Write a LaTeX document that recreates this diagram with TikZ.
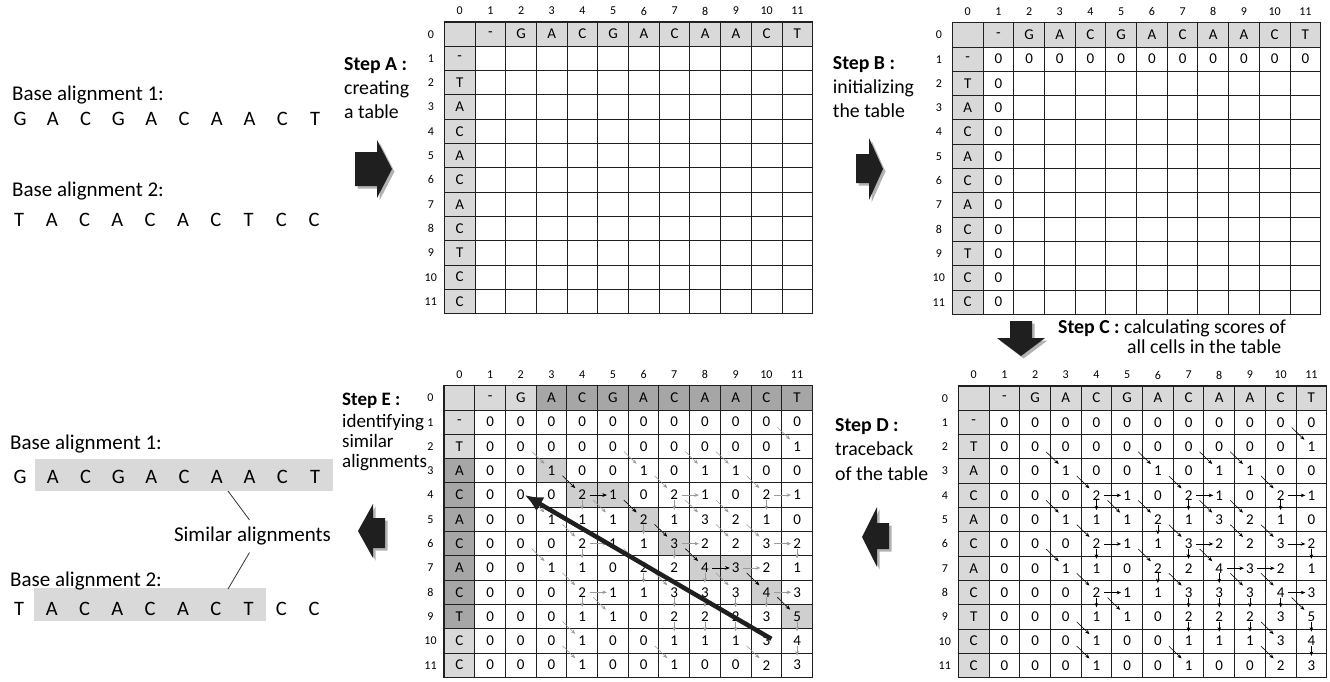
\documentclass[tikz,border=0pt]{standalone}
\usepackage{fontspec}
\setmainfont{Carlito}
\usetikzlibrary{positioning,arrows.meta,shadows}

\definecolor{hdrlight}{HTML}{D9D9D9}
\definecolor{hdrdark}{HTML}{A6A6A6}
\definecolor{pathcell}{HTML}{CFCFCF}
\definecolor{gridcol}{HTML}{202020}
\definecolor{fadearr}{HTML}{9A9A9A}

\newcommand{\cellw}{30.7}
\newcommand{\cellh}{24.3}
% scores, rows 1..11, columns 1..11
\newcommand{\scorerows}{%
  {0,0,0,0,0,0,0,0,0,0,0},%
  {0,0,0,0,0,0,0,0,0,0,1},%
  {0,0,1,0,0,1,0,1,1,0,0},%
  {0,0,0,2,1,0,2,1,0,2,1},%
  {0,0,1,1,1,2,1,3,2,1,0},%
  {0,0,0,2,1,1,3,2,2,3,2},%
  {0,0,1,1,0,2,2,4,3,2,1},%
  {0,0,0,2,1,1,3,3,3,4,3},%
  {0,0,0,1,1,0,2,2,2,3,5},%
  {0,0,0,1,0,0,1,1,1,3,4},%
  {0,0,0,1,0,0,1,0,0,2,3}}
% traceback arrows, given by their target cell
\newcommand{\diaglist}{2/11,3/3,3/6,3/8,3/9,4/4,4/7,4/10,5/3,5/5,5/6,5/8,5/9,6/4,6/7,6/9,6/10,7/3,7/6,7/8,8/4,8/7,8/9,8/10,9/5,9/11,10/4,10/10,11/4,11/7,11/10}
\newcommand{\horlist}{4/5,4/8,4/11,6/5,6/8,6/11,7/9,7/10,8/5,8/11}
\newcommand{\verlist}{5/4,5/7,5/10,6/6,7/4,7/7,7/11,8/6,8/8,9/4,9/7,9/8,9/9,9/10,10/7,10/8,10/9,10/11,11/11}

\begin{document}
\begin{tikzpicture}[x=1pt, y=-1pt,
  cell/.style={font=\fontsize{15}{18}\selectfont, inner sep=0pt},
  idx/.style={font=\fontsize{12}{14}\selectfont, inner sep=0pt},
  gridl/.style={draw=gridcol, line width=1pt},
  steptxt/.style={font=\fontsize{19.8}{24}\selectfont, anchor=base west, inner sep=0pt},
  basetxt/.style={font=\fontsize{21}{24}\selectfont, anchor=base west, inner sep=0pt},
  seqtxt/.style={font=\fontsize{20.5}{24}\selectfont, anchor=base, inner sep=0pt},
  seqhl/.style={fill=hdrlight},
  blockarr/.style={fill=black!88, drop shadow={shadow xshift=2.5pt, shadow yshift=-2.5pt, opacity=0.3, fill=black}},
  tarr/.style={-{Stealth[length=4.5pt,width=3.6pt]}, line width=0.55pt},
  trace/.style={-{Latex[length=18pt,width=16pt]}, line width=4.5pt, draw=black!88},
  simline/.style={draw=black!80, line width=0.8pt}]
\useasboundingbox (0,0) rectangle (1330,681);

% header fills
\foreach \ox/\oy in {444.3/22, 952.3/22.7, 958.3/386, 444/385.7} {
  \fill[hdrlight] (\ox,\oy) rectangle ++({12*\cellw},\cellh);
  \fill[hdrlight] (\ox,\oy) rectangle ++(\cellw,{12*\cellh});
}
\begin{scope}[shift={(444,385.7)}]
  \fill[hdrdark] ({3*\cellw},0) rectangle ({12*\cellw},\cellh);
  \fill[hdrdark] (0,{3*\cellh}) rectangle (\cellw,{10*\cellh});
  \foreach \r/\c in {3/3,4/4,4/5,5/6,6/7,7/8,7/9,8/10,9/11}
    \fill[pathcell] ({\c*\cellw},{\r*\cellh}) rectangle ++(\cellw,\cellh);
\end{scope}

% the four tables
\foreach \tab/\ox/\oy in {A/444.3/22, B/952.3/22.7, D/958.3/386, E/444/385.7} {
  \begin{scope}[shift={(\ox,\oy)}]
    \foreach \i in {1,...,11} {
      \draw[gridl] ({\i*\cellw},0) -- ({\i*\cellw},{12*\cellh});
      \draw[gridl] (0,{\i*\cellh}) -- ({12*\cellw},{\i*\cellh});
    }
    \draw[gridl, line width=1.4pt] (0,0) rectangle ({12*\cellw},{12*\cellh});
    \foreach \i in {0,...,11} {
      \node[idx] at ({(\i+0.5)*\cellw},-11) {\i};
      \node[idx] at (-13.5,{(\i+0.5)*\cellh}) {\i};
    }
    \foreach \b [count=\c] in {-,G,A,C,G,A,C,A,A,C,T}
      \node[cell] (\tab-0-\c) at ({(\c+0.5)*\cellw},{0.5*\cellh}) {\b};
    \foreach \b [count=\r] in {-,T,A,C,A,C,A,C,T,C,C}
      \node[cell] (\tab-\r-0) at ({0.5*\cellw},{(\r+0.5)*\cellh}) {\b};
  \end{scope}
}

% step B: initial zeros
\begin{scope}[shift={(952.3,22.7)}]
  \foreach \c in {1,...,11}
    \node[cell] (B-1-\c) at ({(\c+0.5)*\cellw},{1.5*\cellh}) {0};
  \foreach \r in {2,...,11}
    \node[cell] (B-\r-1) at ({1.5*\cellw},{(\r+0.5)*\cellh}) {0};
\end{scope}

% step D and E: all scores
\foreach \tab/\ox/\oy in {D/958.3/386, E/444/385.7} {
  \begin{scope}[shift={(\ox,\oy)}]
    \foreach \row [count=\r] in \scorerows
      \foreach \v [count=\c] in \row
        \node[cell] (\tab-\r-\c) at ({(\c+0.5)*\cellw},{(\r+0.5)*\cellh}) {\v};
  \end{scope}
}

% small arrows between cells
\foreach \tab/\col in {D/black, E/fadearr} {
  \foreach \r/\c in \diaglist {
    \pgfmathtruncatemacro\rp{\r-1}
    \pgfmathtruncatemacro\cp{\c-1}
    \draw[tarr, draw=\col] ([shift={(11,5)}]\tab-\rp-\cp.center) -- ([shift={(-7,-7)}]\tab-\r-\c.center);
  }
  \foreach \r/\c in \horlist {
    \pgfmathtruncatemacro\cp{\c-1}
    \draw[tarr, draw=\col] ([xshift=7.5pt]\tab-\r-\cp.center) -- ([xshift=-6pt]\tab-\r-\c.center);
  }
  \foreach \r/\c in \verlist {
    \pgfmathtruncatemacro\rp{\r-1}
    \draw[tarr, draw=\col] ([yshift=-5pt]\tab-\rp-\c.center) -- ([yshift=9.5pt]\tab-\r-\c.center);
  }
}
% traceback path in E
\foreach \r/\c in {4/4,5/6,6/7,7/8,8/10,9/11} {
  \pgfmathtruncatemacro\rp{\r-1}
  \pgfmathtruncatemacro\cp{\c-1}
  \draw[tarr] ([shift={(11,5)}]E-\rp-\cp.center) -- ([shift={(-7,-7)}]E-\r-\c.center);
}
\foreach \r/\c in {4/5,7/9} {
  \pgfmathtruncatemacro\cp{\c-1}
  \draw[tarr] ([xshift=7.5pt]E-\r-\cp.center) -- ([xshift=-6pt]E-\r-\c.center);
}
\draw[trace] ([shift={(5,-2)}]E-10-10.center) -- (E-4-2.east);

% step labels
\node[steptxt] (stepA1) at (344,70) {\textbf{Step A :}};
\node[steptxt] (stepA2) at (344,94) {creating};
\node[steptxt] (stepA3) at (344,118) {a table};
\node[steptxt] (stepB1) at (832.7,69) {\textbf{Step B :}};
\node[steptxt] (stepB2) at (832.7,93) {initializing};
\node[steptxt] (stepB3) at (832.7,117) {the table};
\node[steptxt] (stepC1) at (1058,333) {\textbf{Step C :} calculating scores of};
\node[steptxt] (stepC2) at (1127,353) {all cells in the table};
\node[steptxt] (stepD1) at (835,431) {\textbf{Step D :}};
\node[steptxt] (stepD2) at (835,455) {traceback};
\node[steptxt] (stepD3) at (835,480) {of the table};
\node[steptxt, font=\fontsize{19}{22}\selectfont] (stepE1) at (342,405) {\textbf{Step E :}};
\node[steptxt, font=\fontsize{19}{22}\selectfont] (stepE2) at (342,427) {identifying};
\node[steptxt, font=\fontsize{19}{22}\selectfont] (stepE3) at (342,447) {similar};
\node[steptxt, font=\fontsize{19}{22}\selectfont] (stepE4) at (342,467) {alignments};

% block arrows
\fill[blockarr] (355,152) -- (377,152) -- (377,140) -- (392,169) -- (377,198) -- (377,186) -- (355,186) -- cycle;
\fill[blockarr] (856,154) -- (869,154) -- (869,138) -- (883,169) -- (869,200) -- (869,183) -- (856,183) -- cycle;
\fill[blockarr] (1010,321) -- (1032,321) -- (1032,338) -- (1045,338) -- (1021,356) -- (997,338) -- (1010,338) -- cycle;
\fill[blockarr] (889,523) -- (877,523) -- (877,507) -- (862,537) -- (877,567) -- (877,549) -- (889,549) -- cycle;
\fill[blockarr] (385,518) -- (373,518) -- (373,504) -- (358,531) -- (373,558) -- (373,548) -- (385,548) -- cycle;

% input sequences
\node[basetxt] (base1) at (12,100) {Base alignment 1:};
\foreach \b [count=\i from 0] in {G,A,C,G,A,C,A,A,C,T}
  \node[seqtxt] (s1-\i) at ({20+32.8*\i},125) {\b};
\node[basetxt] (base2) at (12,196) {Base alignment 2:};
\foreach \b [count=\i from 0] in {T,A,C,A,C,A,C,T,C,C}
  \node[seqtxt] (s2-\i) at ({19+32.8*\i},226) {\b};

% result
\fill[seqhl] (35,459) rectangle (333,491);
\fill[seqhl] (34,588) rectangle (266,621);
\node[basetxt] (res1) at (10,449) {Base alignment 1:};
\foreach \b [count=\i from 0] in {G,A,C,G,A,C,A,A,C,T}
  \node[seqtxt] (r1-\i) at ({20+32.8*\i},483) {\b};
\node[basetxt] (res2) at (10,586) {Base alignment 2:};
\foreach \b [count=\i from 0] in {T,A,C,A,C,A,C,T,C,C}
  \node[seqtxt] (r2-\i) at ({19+32.8*\i},615) {\b};
\node[font=\fontsize{21}{24}\selectfont, anchor=base, inner xsep=0pt, inner ysep=7pt] (sim) at (252.5,541.7) {Similar alignments};
\coordinate (hl1) at (228,491);
\coordinate (hl2) at (228,589);
\draw[simline] (hl1) -- ([xshift=-3pt]sim.north);
\draw[simline] ([xshift=-3pt]sim.south) -- (hl2);
\end{tikzpicture}
\end{document}
